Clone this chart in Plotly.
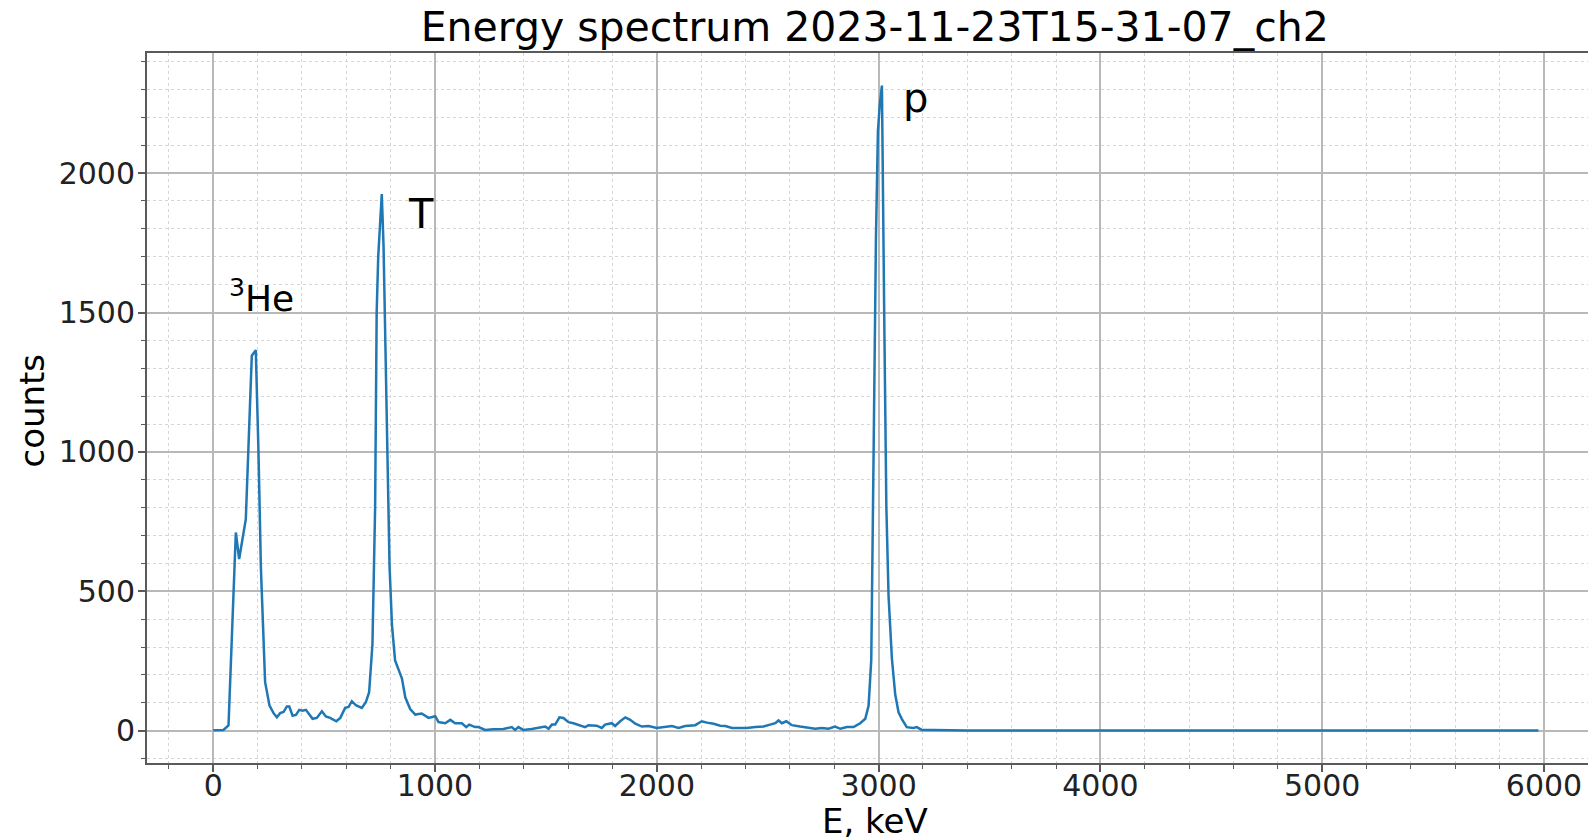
import plotly.graph_objects as go

# Spectrum
energy_kev = [0, 46, 69, 102, 117, 147, 174, 192, 204, 215, 234, 254, 272, 287, 302, 317, 332, 343,
              358, 373, 388, 403, 418, 430, 448, 467, 490, 508, 527, 555, 573, 595, 610, 625, 643,
              670, 688, 703, 718, 730, 737, 744, 760, 768, 783, 795, 806, 820, 843, 851, 866, 888,
              911, 940, 971, 1001, 1016, 1046, 1069, 1091, 1121, 1141, 1154, 1181, 1196, 1226,
              1263, 1308, 1346, 1361, 1376, 1398, 1436, 1473, 1497, 1512, 1527, 1542, 1561, 1579,
              1602, 1624, 1647, 1677, 1692, 1729, 1752, 1767, 1797, 1812, 1835, 1858, 1880, 1903,
              1933, 1963, 2000, 2030, 2068, 2098, 2128, 2173, 2203, 2226, 2256, 2286, 2309, 2339,
              2369, 2406, 2444, 2481, 2511, 2534, 2549, 2564, 2584, 2609, 2646, 2684, 2714, 2744,
              2774, 2804, 2827, 2857, 2887, 2917, 2940, 2955, 2967, 2977, 2988, 2997, 3005, 3015,
              3020, 3026, 3035, 3045, 3060, 3075, 3090, 3105, 3127, 3157, 3172, 3195, 3247, 3322,
              3400, 4000, 5000, 5975]
counts = [2, 3, 19, 711, 616, 759, 1345, 1365, 1003, 586, 174, 90, 63, 48, 63, 67, 87, 87,
          54, 57, 75, 72, 75, 63, 43, 46, 70, 51, 46, 34, 46, 82, 85, 106, 92,
          82, 102, 138, 311, 800, 1500, 1700, 1925, 1740, 1087, 592, 379, 252, 204, 187, 120, 78,
          58, 62, 46, 52, 31, 27, 39, 27, 27, 13, 22, 13, 13, 3,
          5, 6, 13, 3, 13, 3, 6, 10, 15, 7, 22, 22, 48, 46,
          31, 27, 22, 13, 20, 18, 10, 22, 27, 17, 34, 48, 39, 25,
          15, 17, 10, 13, 17, 10, 17, 20, 34, 29, 25, 18, 17, 10,
          10, 10, 13, 15, 22, 27, 37, 27, 34, 20, 15, 10, 7, 10,
          7, 15, 7, 13, 13, 27, 43, 90, 255, 962, 1762, 2150, 2242, 2314,
          2002, 1442, 804, 482, 259, 130, 66, 42, 13, 10, 13, 3, 3, 2,
          1, 1, 1, 1]

x_ticks = [0, 1000, 2000, 3000, 4000, 5000, 6000]
y_ticks = [0, 500, 1000, 1500, 2000]

peak_labels = ["<sup>3</sup>He", "T", "p"]
peak_label_x = [60, 870, 3100]
peak_label_y = [1560, 1854, 2268]
peak_label_size = [36, 40, 40]

FONT = "DejaVu Sans"
AX = "#5a5a5a"

fig = go.Figure()
fig.add_trace(go.Scatter(x=energy_kev, y=counts, mode="lines",
                         line=dict(color="#1f77b4", width=2.5), showlegend=False))

for t, x, y, s in zip(peak_labels, peak_label_x, peak_label_y, peak_label_size):
    fig.add_annotation(x=x, y=y, xref="x", yref="y", text=t, showarrow=False,
                       xanchor="left", yanchor="middle",
                       font=dict(family=FONT, size=s, color="black"))

fig.add_annotation(x=0.505, y=-0.082, xref="paper", yref="paper", text="E, keV",
                   showarrow=False, xanchor="center", yanchor="middle",
                   font=dict(family=FONT, size=34, color="black"))
fig.add_annotation(x=-0.080, y=0.496, xref="paper", yref="paper", text="counts",
                   showarrow=False, xanchor="center", yanchor="middle", textangle=-90,
                   font=dict(family=FONT, size=34, color="black"))

fig.update_layout(
    width=1588, height=840,
    margin=dict(l=147, r=0, t=53, b=77),
    paper_bgcolor="white", plot_bgcolor="white",
    title=dict(text="Energy spectrum 2023-11-23T15-31-07_ch2",
               x=0.505, xref="paper", xanchor="center",
               y=1 - 27 / 840, yref="container", yanchor="middle",
               font=dict(family=FONT, size=41, color="black")),
    font=dict(family=FONT, color="#222222"),
)

fig.update_xaxes(
    range=[-298.5, 6198.5],
    tickvals=x_ticks, ticktext=[str(v) for v in x_ticks],
    tickfont=dict(family=FONT, size=30, color="#222222"),
    ticks="outside", ticklen=7, tickwidth=1.5, tickcolor=AX,
    ticklabelstandoff=-12,
    showline=True, linecolor=AX, linewidth=2, mirror=True,
    showgrid=True, gridcolor="#b8b8b8", gridwidth=1.5, zeroline=False,
    minor=dict(dtick=200, tick0=0, showgrid=True, gridcolor="#d6d6d6", griddash="dot",
               gridwidth=1, ticks="outside", ticklen=4, tickcolor=AX, tickwidth=1),
)
fig.update_yaxes(
    range=[-115.7, 2430.7],
    tickvals=y_ticks, ticktext=[str(v) for v in y_ticks],
    tickfont=dict(family=FONT, size=30, color="#222222"),
    ticks="outside", ticklen=7, tickwidth=1.5, tickcolor=AX,
    ticklabelstandoff=-3,
    showline=True, linecolor=AX, linewidth=2, mirror=False,
    showgrid=True, gridcolor="#b8b8b8", gridwidth=1.5, zeroline=False,
    minor=dict(dtick=100, tick0=0, showgrid=True, gridcolor="#d6d6d6", griddash="dot",
               gridwidth=1, ticks="outside", ticklen=4, tickcolor=AX, tickwidth=1),
)

fig.write_html("out.html")
